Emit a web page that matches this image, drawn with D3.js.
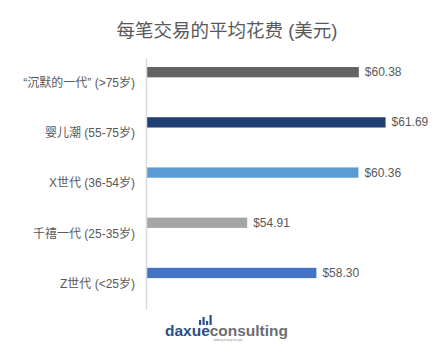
<!DOCTYPE html>
<html>
<head>
<meta charset="utf-8">
<script src="https://cdn.jsdelivr.net/npm/d3@7"></script>
<style>
  html, body { margin: 0; padding: 0; background: #fff; }
  svg { display: block; }
  text { font-family: "Liberation Sans", Arial, "Noto Sans CJK SC", sans-serif; }
</style>
</head>
<body>
<svg id="chart" width="448" height="355"></svg>
<script>
// Average spend per transaction (USD) by generation
const categories = ["“沉默的一代” (>75岁)", "婴儿潮 (55-75岁)", "X世代 (36-54岁)", "千禧一代 (25-35岁)", "Z世代 (<25岁)"];
const values = [60.38, 61.69, 60.36, 54.91, 58.30];
const barColors = ["#636363", "#203f73", "#5b9bd5", "#a5a5a5", "#4472c4"];
const axisDomain = [50, 64];
const titleText = "每笔交易的平均花费 (美元)";

const svg = d3.select("#chart");
const textColor = "#595959";

const x = d3.scaleLinear().domain(axisDomain).range([147, 432.7]);
const y = d3.scaleBand().domain(categories).range([58, 309]).padding(0);
// The visible series sits in the upper part of each category band
const barTop = d => y(d) + y.bandwidth() * 0.18;
const barH = y.bandwidth() * 0.205;

// Title
svg.append("text")
  .attr("x", 227).attr("y", 30)
  .attr("text-anchor", "middle")
  .attr("dominant-baseline", "central")
  .attr("font-size", 18.5)
  .attr("fill", textColor)
  .text(titleText);

// Bars
svg.append("g").selectAll("rect")
  .data(categories)
  .join("rect")
  .attr("x", x(axisDomain[0]))
  .attr("y", d => barTop(d))
  .attr("width", (d, i) => x(values[i]) - x(axisDomain[0]))
  .attr("height", barH)
  .attr("fill", (d, i) => barColors[i]);

// Value labels
svg.append("g").selectAll("text")
  .data(categories)
  .join("text")
  .attr("x", (d, i) => x(values[i]) + 6)
  .attr("y", d => barTop(d) + barH / 2)
  .attr("dominant-baseline", "central")
  .attr("font-size", 12)
  .attr("fill", textColor)
  .text((d, i) => "$" + values[i].toFixed(2));

// Category axis
const yAxis = d3.axisLeft(y).tickSize(0).tickPadding(11);
const gy = svg.append("g")
  .attr("transform", `translate(${x(axisDomain[0]) - 1},0)`)
  .call(yAxis);
gy.select(".domain").attr("stroke", "#d9d9d9").attr("stroke-width", 1.5);
gy.selectAll(".tick text")
  .attr("font-size", 12)
  .attr("fill", textColor)
  .attr("font-family", "\"Liberation Sans\", Arial, \"Noto Sans CJK SC\", sans-serif");

// Logo
const logo = svg.append("g");
const logoIcon = [
  {dx: 0, h: 5},
  {dx: 3.5, h: 8},
  {dx: 7, h: 4},
  {dx: 10.5, h: 10}
];
logo.selectAll("rect")
  .data(logoIcon)
  .join("rect")
  .attr("x", d => 199 + d.dx)
  .attr("y", d => 325 - d.h)
  .attr("width", 2.2)
  .attr("height", d => d.h)
  .attr("fill", "#2b4f86");
const word = logo.append("text")
  .attr("x", 165).attr("y", 336)
  .attr("font-size", 15.5)
  .attr("font-weight", "bold")
  .attr("textLength", 123)
  .attr("lengthAdjust", "spacingAndGlyphs");
word.append("tspan").attr("fill", "#2b4f86").text("daxue");
word.append("tspan").attr("fill", "#6d6e71").text("consulting");
logo.append("text")
  .attr("x", 228).attr("y", 340.5)
  .attr("text-anchor", "middle")
  .attr("font-size", 3)
  .attr("fill", "#8a8a8a")
  .text("making it easy for you");
</script>
</body>
</html>
